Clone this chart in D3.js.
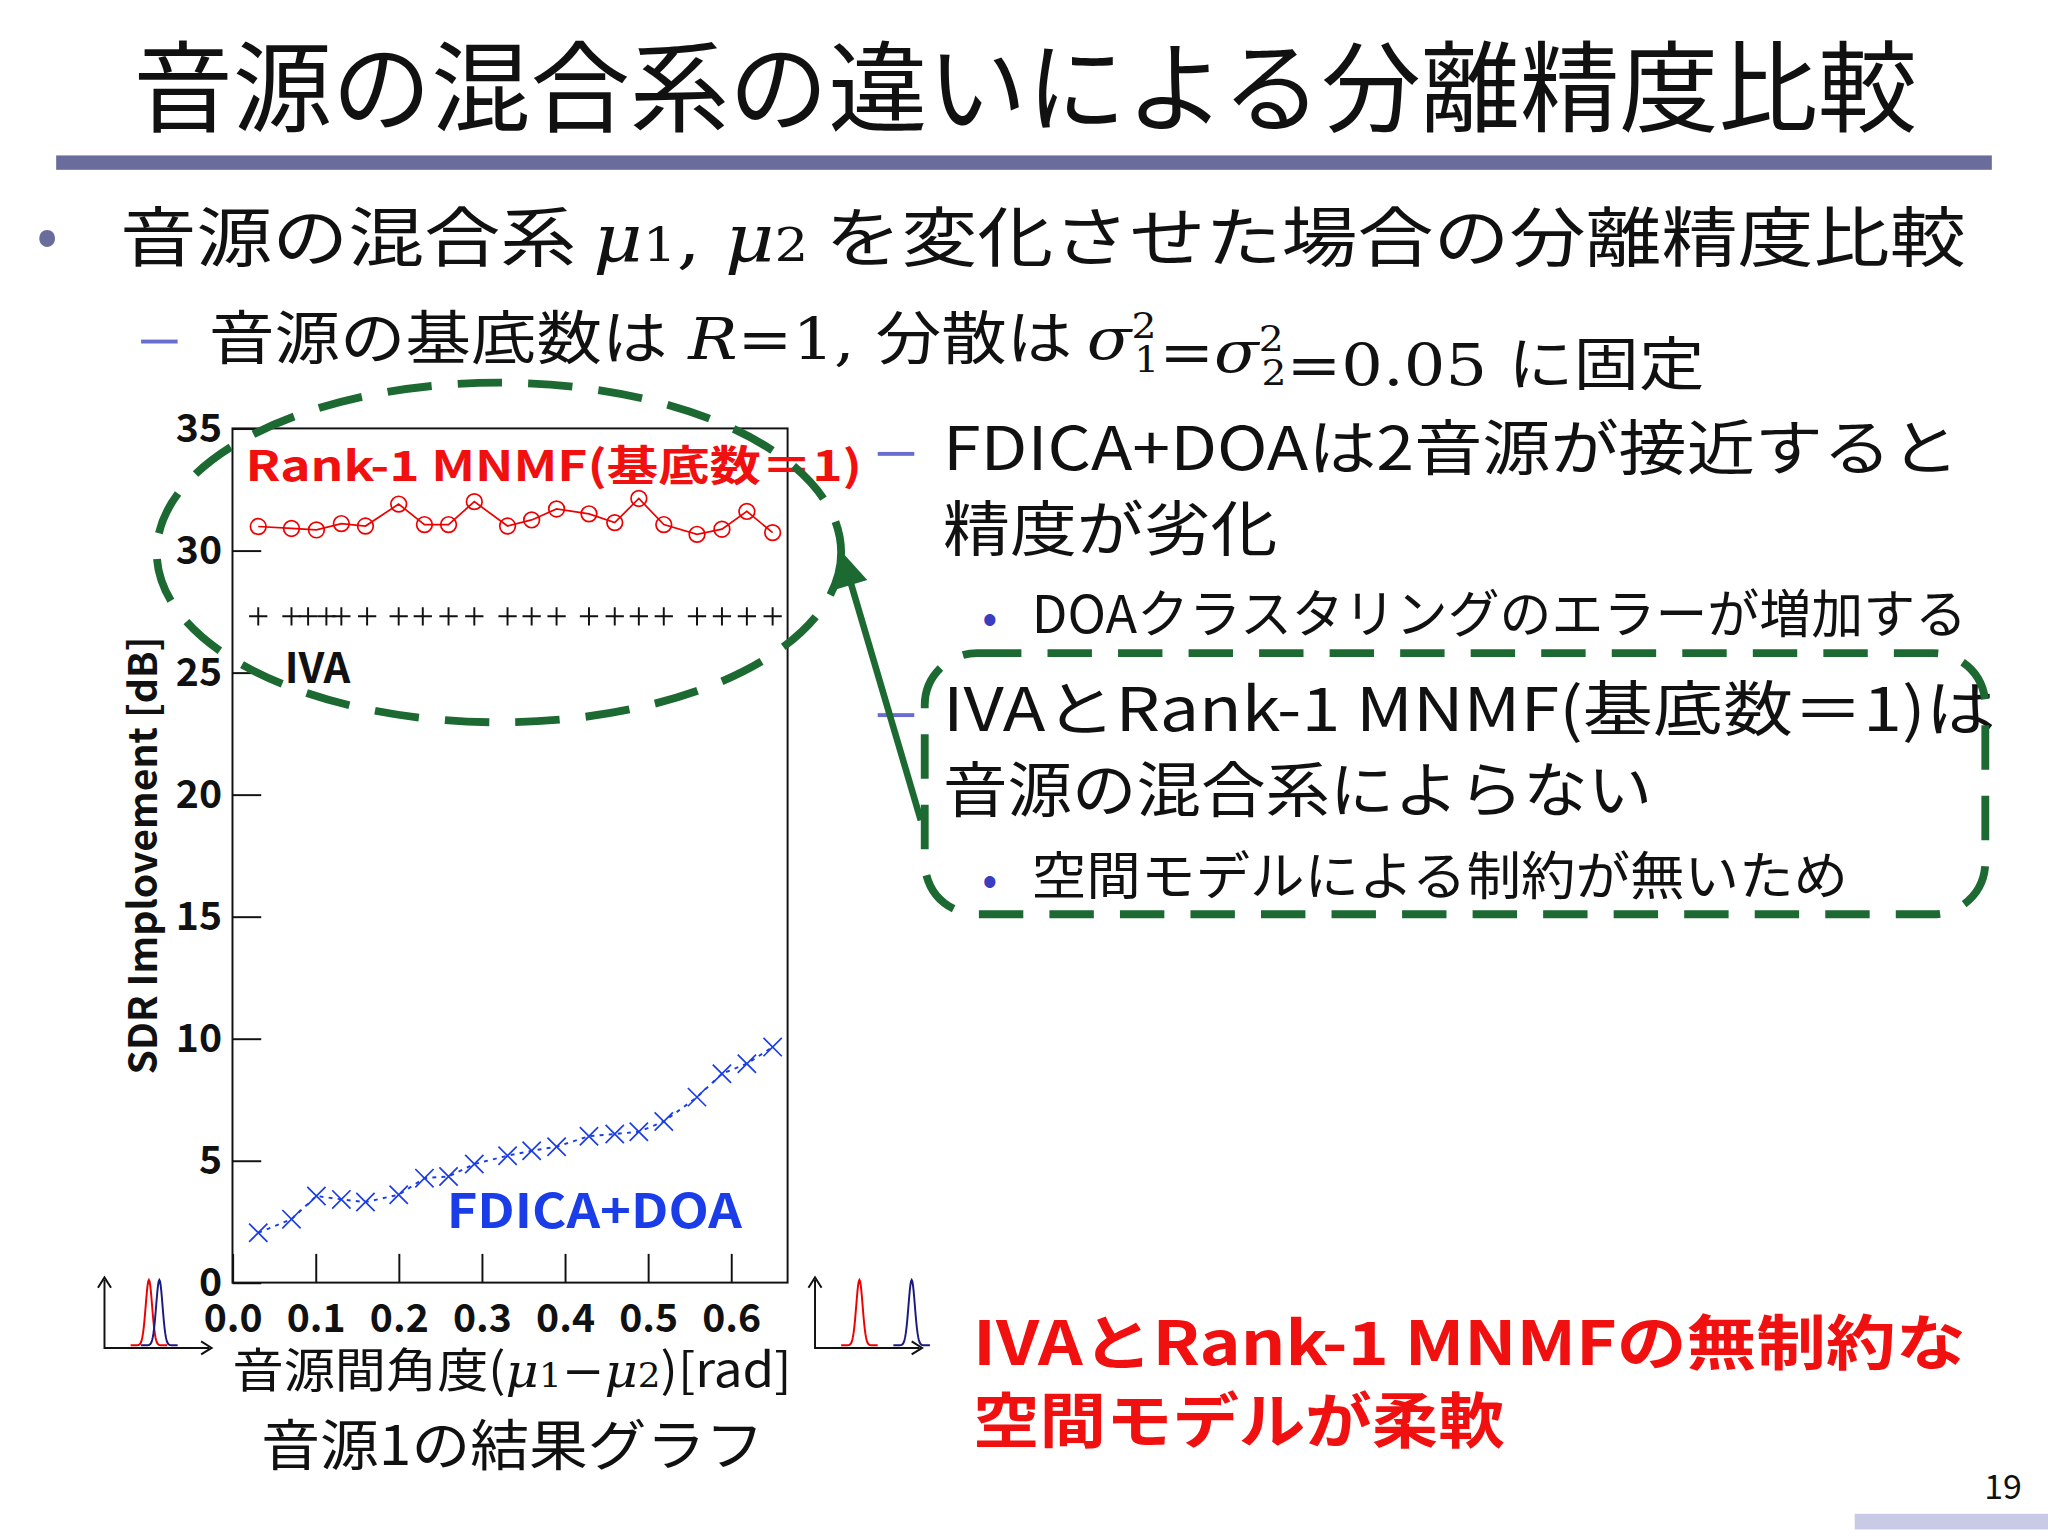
<!DOCTYPE html>
<html><head><meta charset="utf-8">
<script src="https://cdn.jsdelivr.net/npm/d3@7"></script>
<style>body{margin:0;background:#fff}svg text{font-family:"Noto Sans CJK JP","Noto Sans",sans-serif}</style>
</head><body><svg id="c" width="2048" height="1536"></svg>
<script>
// data
const xVals=[0.031,0.071,0.101,0.131,0.160,0.200,0.231,0.260,0.291,0.331,0.360,0.390,0.429,0.460,0.489,0.519,0.559,0.589,0.619,0.650];
const mnmf=[30.98,30.9,30.84,31.1,31.0,31.9,31.06,31.06,32.0,31.0,31.25,31.7,31.5,31.14,32.13,31.06,30.66,30.87,31.6,30.73];
const ivaX=[0.031,0.071,0.091,0.113,0.131,0.162,0.200,0.229,0.260,0.291,0.331,0.360,0.390,0.429,0.460,0.489,0.519,0.559,0.589,0.619,0.650];
const iva=[27.3,27.3,27.3,27.3,27.3,27.3,27.3,27.3,27.3,27.3,27.3,27.3,27.3,27.3,27.3,27.3,27.3,27.3,27.3,27.3,27.3];
const fdica=[2.04,2.6,3.55,3.41,3.3,3.6,4.28,4.35,4.86,5.2,5.4,5.57,6.0,6.09,6.18,6.6,7.6,8.56,8.97,9.65];
const xTicks=[0,0.1,0.2,0.3,0.4,0.5,0.6];
const yTicks=[0,5,10,15,20,25,30,35];

const K=2048/1568;
const svg=d3.select("#c");
const g=svg.append("g").attr("transform",`scale(${K})`);
const T=(x,y,s,txt,o={})=>{const t=g.append("text").attr("x",x).attr("y",y).attr("font-size",s).attr("fill",o.fill||"#111").attr("font-weight",o.w||"normal").attr("text-anchor",o.a||"start");t.text(txt);if(o.len)t.attr("textLength",o.len).attr("lengthAdjust","spacingAndGlyphs");return t;};
const green="#1c6a32";
// header
T(785,95,76,"音源の混合系の違いによる分離精度比較",{a:"middle"});
g.append("rect").attr("x",43).attr("y",119).attr("width",1482).attr("height",11).attr("fill","#6a6d9c");
T(28,197,48,"•",{fill:"#6a6d9c"});
const l1=T(92,200,50,"",{len:1413});
const mi=(p,a,b)=>{p.append("tspan").attr("font-family","DejaVu Serif").attr("font-style","italic").text(a);p.append("tspan").attr("font-family","DejaVu Serif").attr("font-size","0.7em").text(b);};
l1.append("tspan").text("音源の混合系 ");mi(l1,"μ","1");l1.append("tspan").attr("font-family","DejaVu Serif").text(", ");mi(l1,"μ","2");l1.append("tspan").text(" を変化させた場合の分離精度比較");
g.append("rect").attr("x",108).attr("y",260).attr("width",28).attr("height",3).attr("fill","#6a6dd0");
const l2=T(160,275,44,"",{len:1145});
l2.append("tspan").text("音源の基底数は");
l2.append("tspan").attr("font-family","DejaVu Serif").attr("font-style","italic").text(" R");
l2.append("tspan").attr("font-family","DejaVu Serif").text("=1, ");
l2.append("tspan").text("分散は ");
const sg=(n)=>{l2.append("tspan").attr("font-family","DejaVu Serif").attr("font-style","italic").text("σ");l2.append("tspan").attr("font-family","DejaVu Serif").attr("font-size","0.6em").attr("dy",-16).text("2");l2.append("tspan").attr("font-family","DejaVu Serif").attr("font-size","0.6em").attr("dx",-15).attr("dy",26).text(n);l2.append("tspan").attr("dy",-10).text("");};
sg("1");l2.append("tspan").attr("font-family","DejaVu Serif").text("=");sg("2");l2.append("tspan").attr("font-family","DejaVu Serif").text("=0.05 ");l2.append("tspan").text("に固定");

// chart
const L=178,R=603,Tp=328,B=982;
const x=d3.scaleLinear().domain([0,0.668]).range([L,R]);
const y=d3.scaleLinear().domain([0,35]).range([B,Tp]);
g.append("rect").attr("x",L).attr("y",Tp).attr("width",R-L).attr("height",B-Tp).attr("fill","none").attr("stroke","#111").attr("stroke-width",1.5);
const xa=g.append("g").attr("transform",`translate(0,${B})`).call(d3.axisTop(x).tickValues(xTicks).tickSize(22).tickFormat(d3.format(".1f")));
xa.select(".domain").remove();xa.selectAll("line").attr("stroke","#111").attr("stroke-width",1.5);
xa.selectAll("text").attr("y",38).attr("dy",0).attr("font-size",30).attr("font-weight","bold").attr("fill","#111").attr("font-family","Liberation Sans");
const ya=g.append("g").attr("transform",`translate(${L},0)`).call(d3.axisRight(y).tickValues(yTicks).tickSize(22));
ya.select(".domain").remove();ya.selectAll("line").attr("stroke","#111").attr("stroke-width",1.5);
ya.selectAll("text").attr("x",-8).attr("text-anchor","end").attr("font-size",30).attr("font-weight","bold").attr("fill","#111").attr("font-family","Liberation Sans");
g.append("text").attr("transform",`translate(120,655) rotate(-90)`).attr("text-anchor","middle").attr("font-size",30).attr("font-weight","bold").attr("font-family","Liberation Sans").attr("fill","#111").text("SDR Implovement [dB]");
// red
g.append("path").datum(mnmf).attr("fill","none").attr("stroke","#e00").attr("stroke-width",1.3).attr("d",d3.line().x((d,i)=>x(xVals[i])).y(d=>y(d)));
g.selectAll(".rc").data(mnmf).join("circle").attr("cx",(d,i)=>x(xVals[i])).attr("cy",d=>y(d)).attr("r",6).attr("fill","none").attr("stroke","#e00").attr("stroke-width",1.3);
// iva
g.selectAll(".pl").data(iva).join("path").attr("d",(d,i)=>{const cx=x(ivaX[i]),cy=y(d);return `M${cx-7},${cy}H${cx+7}M${cx},${cy-7}V${cy+7}`}).attr("stroke","#111").attr("stroke-width",1.5);
// blue
g.append("path").datum(fdica).attr("fill","none").attr("stroke","#1a3de8").attr("stroke-width",1.5).attr("stroke-dasharray","3,4").attr("d",d3.line().x((d,i)=>x(xVals[i])).y(d=>y(d)));
g.selectAll(".bx").data(fdica).join("path").attr("d",(d,i)=>{const cx=x(xVals[i]),cy=y(d);return `M${cx-7},${cy-7}L${cx+7},${cy+7}M${cx-7},${cy+7}L${cx+7},${cy-7}`}).attr("stroke","#1a3de8").attr("stroke-width",1.3);
T(188,368,32,"Rank-1 MNMF(基底数＝1)",{fill:"#f01010",w:"bold",len:472});
T(218,523,32,"IVA",{w:"bold"}).attr("font-family","Liberation Sans");
T(342,940,36,"FDICA+DOA",{fill:"#1a3de8",w:"bold",len:226}).attr("font-family","Liberation Sans");
const xl=T(178,1062,36,"",{len:428});
xl.append("tspan").text("音源間角度(");
xl.append("tspan").attr("font-family","DejaVu Serif").attr("font-style","italic").text("μ");xl.append("tspan").attr("font-family","DejaVu Serif").attr("font-size","0.7em").text("1");
xl.append("tspan").attr("font-family","DejaVu Serif").text("−");xl.append("tspan").attr("font-family","DejaVu Serif").attr("font-style","italic").text("μ");xl.append("tspan").attr("font-family","DejaVu Serif").attr("font-size","0.7em").text("2");
xl.append("tspan").text(")[rad]");
T(200,1122,42,"音源1の結果グラフ",{len:385});
// icons
function icon(ox,sep){const ic=g.append("g").attr("transform",`translate(${ox},0)`);
 ic.append("path").attr("d","M2,980V1032H82").attr("fill","none").attr("stroke","#111").attr("stroke-width",1.5);
 ic.append("path").attr("d","M76,1027L84,1032L76,1037M-3,986L2,978L7,986").attr("fill","none").attr("stroke","#111").attr("stroke-width",1.5);
 const gs=(c,col)=>{const pts=d3.range(-14,14.5,0.5).map(t=>[c+t,1030-50*Math.exp(-t*t/12)]);ic.append("path").attr("d",d3.line()(pts)).attr("fill","none").attr("stroke",col).attr("stroke-width",1.5);};
 gs(36,"#e00");gs(36+sep,"#1a1a80");}
icon(78,8);icon(622,40);
// ellipse
g.append("ellipse").attr("cx",382).attr("cy",423).attr("rx",262).attr("ry",130).attr("fill","none").attr("stroke",green).attr("stroke-width",6).attr("stroke-dasharray","34,20");
// right text
const dash=(yy)=>g.append("rect").attr("x",672).attr("y",yy).attr("width",28).attr("height",3).attr("fill","#6a6dd0");
dash(346);T(722,360,46,"FDICA+DOAは2音源が接近すると",{len:778});T(722,422,46,"精度が劣化",{len:256});
T(752,485,34,"•",{fill:"#3a3dc0"});T(790,485,40,"DOAクラスタリングのエラーが増加する",{len:716});
dash(546);T(722,560,46,"IVAとRank-1 MNMF(基底数＝1)は",{len:806});T(722,622,46,"音源の混合系によらない",{len:543});
T(752,685,34,"•",{fill:"#3a3dc0"});T(790,685,40,"空間モデルによる制約が無いため",{len:625});
g.append("rect").attr("x",708).attr("y",500).attr("width",812).attr("height",200).attr("rx",40).attr("fill","none").attr("stroke",green).attr("stroke-width",6).attr("stroke-dasharray","34,20");
// arrow
g.append("line").attr("x1",705).attr("y1",628).attr("x2",651).attr("y2",445).attr("stroke",green).attr("stroke-width",5);
g.append("path").attr("d","M645,423L638,452L664,444Z").attr("fill",green);
T(745,1045,46,"IVAとRank-1  MNMFの無制約な",{fill:"#f01010",w:"bold",len:760});
T(745,1105,46,"空間モデルが柔軟",{fill:"#f01010",w:"bold",len:407});
T(1548,1148,26,"19",{a:"end"});
g.append("rect").attr("x",1420).attr("y",1159).attr("width",148).attr("height",12).attr("fill","#c8cae6");
</script></body></html>
